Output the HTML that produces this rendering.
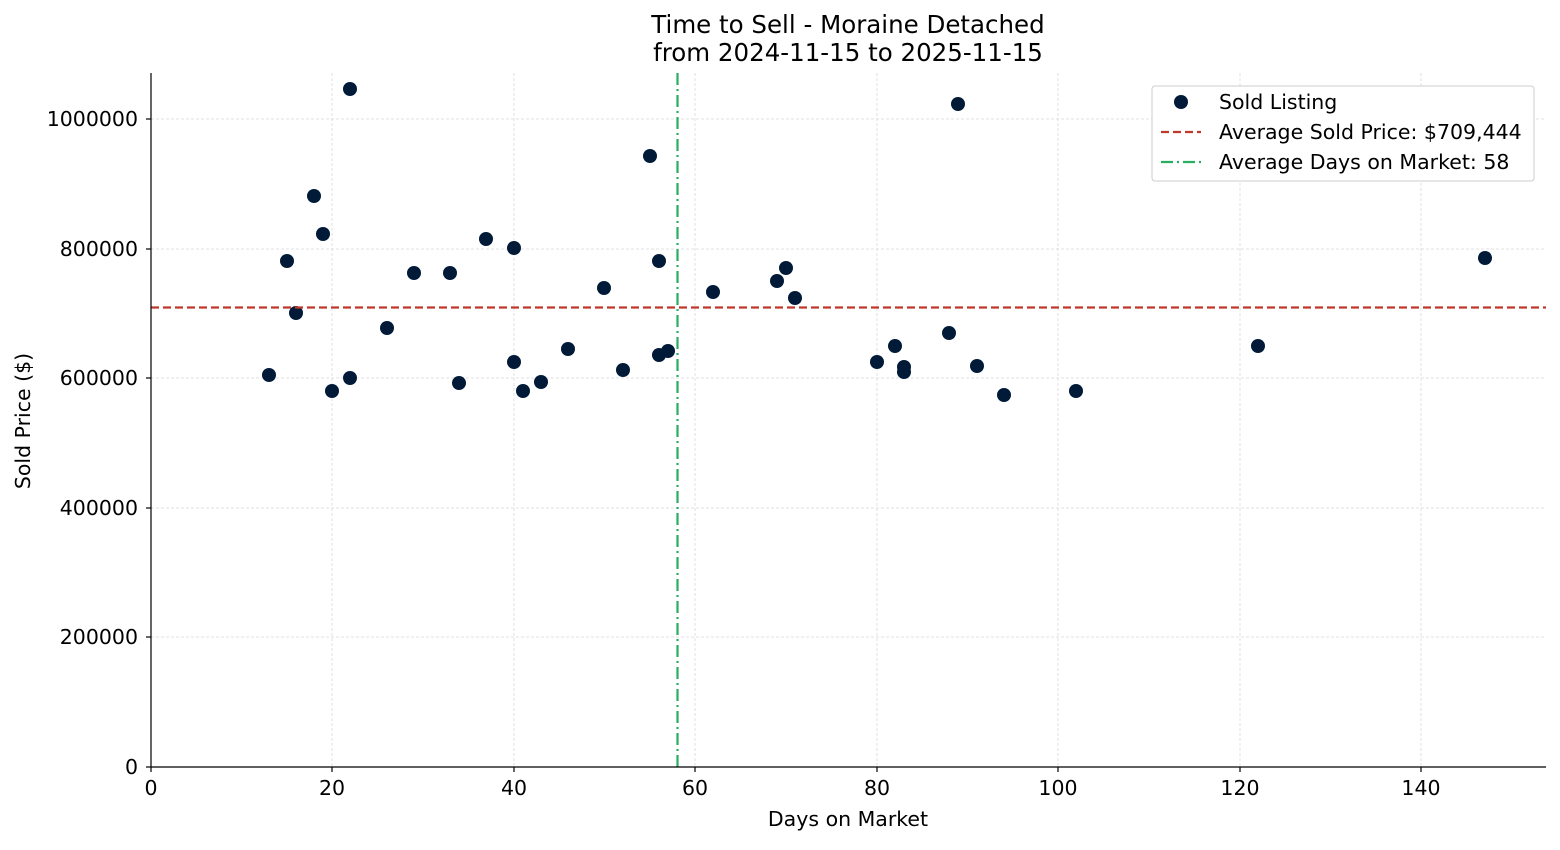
<!DOCTYPE html>
<html><head><meta charset="utf-8"><style>body{margin:0;background:#fff}</style></head><body>
<svg width="1560" height="845" xmlns="http://www.w3.org/2000/svg" font-family="DejaVu Sans, sans-serif">
<rect width="1560" height="845" fill="#fff"/>
<g stroke="#d9d9d9" stroke-width="0.8" stroke-dasharray="3,2">
<line x1="151" y1="73" x2="151" y2="767"/><line x1="332" y1="73" x2="332" y2="767"/><line x1="514" y1="73" x2="514" y2="767"/><line x1="695" y1="73" x2="695" y2="767"/><line x1="877" y1="73" x2="877" y2="767"/><line x1="1058" y1="73" x2="1058" y2="767"/><line x1="1240" y1="73" x2="1240" y2="767"/><line x1="1421" y1="73" x2="1421" y2="767"/>
<line x1="151" y1="119" x2="1546" y2="119"/><line x1="151" y1="249" x2="1546" y2="249"/><line x1="151" y1="378" x2="1546" y2="378"/><line x1="151" y1="508" x2="1546" y2="508"/><line x1="151" y1="637" x2="1546" y2="637"/>
</g>
<g fill="#001a38">
<circle cx="269" cy="375" r="7"/><circle cx="287" cy="261" r="7"/><circle cx="296" cy="313" r="7"/><circle cx="314" cy="196" r="7"/><circle cx="323" cy="234" r="7"/><circle cx="332" cy="391" r="7"/><circle cx="350" cy="89" r="7"/><circle cx="350" cy="378" r="7"/><circle cx="387" cy="328" r="7"/><circle cx="414" cy="273" r="7"/><circle cx="450" cy="273" r="7"/><circle cx="459" cy="383" r="7"/><circle cx="486" cy="239" r="7"/><circle cx="514" cy="248" r="7"/><circle cx="514" cy="362" r="7"/><circle cx="523" cy="391" r="7"/><circle cx="541" cy="382" r="7"/><circle cx="568" cy="349" r="7"/><circle cx="604" cy="288" r="7"/><circle cx="623" cy="370" r="7"/><circle cx="650" cy="156" r="7"/><circle cx="659" cy="261" r="7"/><circle cx="659" cy="355" r="7"/><circle cx="668" cy="351" r="7"/><circle cx="713" cy="292" r="7"/><circle cx="777" cy="281" r="7"/><circle cx="786" cy="268" r="7"/><circle cx="795" cy="298" r="7"/><circle cx="877" cy="362" r="7"/><circle cx="895" cy="346" r="7"/><circle cx="904" cy="367" r="7"/><circle cx="904" cy="372" r="7"/><circle cx="949" cy="333" r="7"/><circle cx="958" cy="104" r="7"/><circle cx="977" cy="366" r="7"/><circle cx="1004" cy="395" r="7"/><circle cx="1076" cy="391" r="7"/><circle cx="1258" cy="346" r="7"/><circle cx="1485" cy="258" r="7"/>
</g>
<line x1="151" y1="307.5" x2="1546" y2="307.5" stroke="#c0392b" stroke-width="2.2" stroke-dasharray="8,4"/>
<line x1="677.5" y1="73" x2="677.5" y2="767" stroke="#27ae60" stroke-width="2.2" stroke-dasharray="12,4,2,4"/>
<g stroke="#000" stroke-width="1.2"><line x1="151" y1="73" x2="151" y2="767"/><line x1="151" y1="767" x2="1546" y2="767"/>
<line x1="151" y1="767" x2="151" y2="772"/><line x1="332" y1="767" x2="332" y2="772"/><line x1="514" y1="767" x2="514" y2="772"/><line x1="695" y1="767" x2="695" y2="772"/><line x1="877" y1="767" x2="877" y2="772"/><line x1="1058" y1="767" x2="1058" y2="772"/><line x1="1240" y1="767" x2="1240" y2="772"/><line x1="1421" y1="767" x2="1421" y2="772"/>
<line x1="146" y1="767" x2="151" y2="767"/><line x1="146" y1="637" x2="151" y2="637"/><line x1="146" y1="508" x2="151" y2="508"/><line x1="146" y1="378" x2="151" y2="378"/><line x1="146" y1="249" x2="151" y2="249"/><line x1="146" y1="119" x2="151" y2="119"/></g>
<g font-size="20.5" text-anchor="middle" fill="#000">
<text x="151" y="795">0</text><text x="332" y="795">20</text><text x="514" y="795">40</text><text x="695" y="795">60</text><text x="877" y="795">80</text><text x="1058" y="795">100</text><text x="1240" y="795">120</text><text x="1421" y="795">140</text>
<text x="848" y="826">Days on Market</text>
<text x="848" y="33" font-size="24.5">Time to Sell - Moraine Detached</text>
<text x="848" y="61" font-size="24.5">from 2024-11-15 to 2025-11-15</text>
</g>
<g font-size="20.5" text-anchor="end"><text x="138" y="774">0</text><text x="138" y="644">200000</text><text x="138" y="515">400000</text><text x="138" y="385">600000</text><text x="138" y="256">800000</text><text x="138" y="126">1000000</text></g>
<text transform="translate(30,421) rotate(-90)" font-size="20.5" text-anchor="middle">Sold Price ($)</text>
<rect x="1152" y="86" width="382" height="95" rx="3" fill="#fff" stroke="#ccc"/>
<circle cx="1181" cy="102" r="7" fill="#001a38"/>
<line x1="1161" y1="132" x2="1201" y2="132" stroke="#c0392b" stroke-width="2.2" stroke-dasharray="8,4"/>
<line x1="1161" y1="162" x2="1201" y2="162" stroke="#27ae60" stroke-width="2.2" stroke-dasharray="12,4,2,4"/>
<g font-size="20.5"><text x="1219" y="109">Sold Listing</text><text x="1219" y="139">Average Sold Price: $709,444</text><text x="1219" y="169">Average Days on Market: 58</text></g>
</svg>
</body></html>
